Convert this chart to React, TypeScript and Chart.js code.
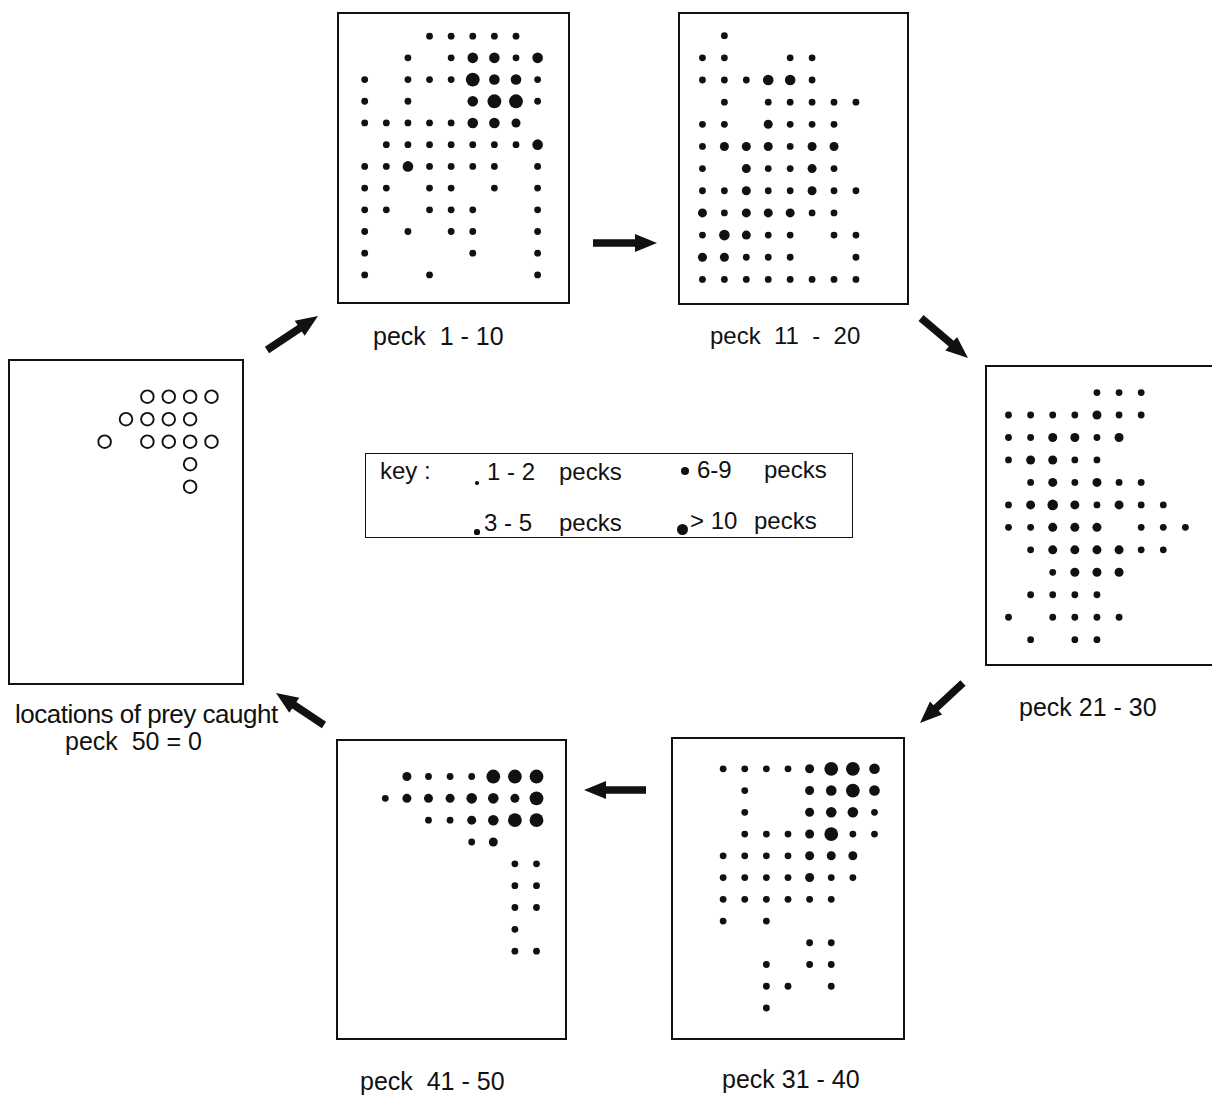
import React, { useEffect, useRef } from "react";
import { Chart, registerables } from "chart.js";

Chart.register(...registerables);

// Peck counts per grid cell, encoded as size class:
// 0 = none, 1 = 1-2 pecks, 2 = 3-5 pecks, 3 = 6-9 pecks, 4 = >10 pecks
const peck1to10 = [
  "000111110",
  "001013313",
  "101114331",
  "101003441",
  "111113320",
  "011111113",
  "113111101",
  "110110101",
  "110111001",
  "101011001",
  "100001001",
  "100100001",
];

const peck11to20 = [
  "01000000",
  "11001100",
  "11133100",
  "01011111",
  "11021110",
  "12221220",
  "10211210",
  "11211211",
  "21222110",
  "13211011",
  "22111001",
  "11111111",
];

const peck21to30 = [
  "000011100",
  "111121100",
  "112212000",
  "122110000",
  "012121100",
  "123212110",
  "112220111",
  "012222110",
  "001222000",
  "011110000",
  "101111000",
  "010110000",
];

const peck31to40 = [
  "11112443",
  "01002343",
  "01002331",
  "01112411",
  "11112220",
  "11112110",
  "11111100",
  "10100000",
  "00001100",
  "00101100",
  "00110100",
  "00100000",
];

const peck41to50 = [
  "02111444",
  "12223324",
  "00112344",
  "00001200",
  "00000011",
  "00000011",
  "00000011",
  "00000010",
  "00000011",
];

// locations of prey caught (1 = prey item)
const preyCaught = [
  "001111",
  "011110",
  "101111",
  "000010",
  "000010",
];

const radiusByLevel = [0, 3.4, 4.5, 5.3, 6.9];
const hollowRadius = 6.3;

type Geo = {
  left: number;
  top: number;
  right: number;
  bottom: number;
  x0: number;
  y0: number;
  dx: number;
  dy: number;
};

const panels: { key: string; rows: string[]; geo: Geo; hollow?: boolean }[] = [
  { key: "p1", rows: peck1to10, geo: { left: 337, top: 12, right: 570, bottom: 304, x0: 359, y0: 30, dx: 23, dy: 22.8 } },
  { key: "p2", rows: peck11to20, geo: { left: 678, top: 12, right: 909, bottom: 305, x0: 698, y0: 31, dx: 23, dy: 23 } },
  { key: "p3", rows: peck21to30, geo: { left: 985, top: 365, right: 1215, bottom: 666, x0: 1004, y0: 388, dx: 23.2, dy: 23.3 } },
  { key: "p4", rows: peck31to40, geo: { left: 671, top: 737, right: 905, bottom: 1040, x0: 719, y0: 763, dx: 23, dy: 22.8 } },
  { key: "p5", rows: peck41to50, geo: { left: 336, top: 739, right: 567, bottom: 1040, x0: 381, y0: 771, dx: 23, dy: 22.9 } },
  { key: "p6", rows: preyCaught, hollow: true, geo: { left: 8, top: 359, right: 244, bottom: 685, x0: 103, y0: 390, dx: 23, dy: 23.7 } },
];

const BORDER = 2;

function DotPanel({ rows, geo, hollow }: { rows: string[]; geo: Geo; hollow?: boolean }) {
  const ref = useRef<HTMLCanvasElement>(null);
  const w = geo.right - geo.left - BORDER * 2;
  const h = geo.bottom - geo.top - BORDER * 2;
  useEffect(() => {
    const iL = geo.left + BORDER;
    const iT = geo.top + BORDER;
    const iR = iL + w;
    const iB = iT + h;
    const points: { x: number; y: number; r: number }[] = [];
    rows.forEach((row, r) => {
      row.split("").forEach((ch, c) => {
        const lv = Number(ch);
        if (lv > 0) points.push({ x: c, y: r, r: hollow ? hollowRadius : radiusByLevel[lv] });
      });
    });
    const chart = new Chart(ref.current as HTMLCanvasElement, {
      type: "bubble",
      data: {
        datasets: [
          {
            data: points,
            backgroundColor: hollow ? "rgba(0,0,0,0)" : "#111",
            borderColor: "#111",
            borderWidth: hollow ? 1.9 : 0,
          },
        ],
      },
      options: {
        animation: false,
        responsive: false,
        events: [],
        layout: { padding: 0 },
        plugins: { legend: { display: false }, tooltip: { enabled: false } },
        scales: {
          x: { type: "linear", display: false, min: (iL - geo.x0) / geo.dx, max: (iR - geo.x0) / geo.dx },
          y: { type: "linear", display: false, reverse: true, min: (iT - geo.y0) / geo.dy, max: (iB - geo.y0) / geo.dy },
        },
      },
    } as any);
    return () => chart.destroy();
  }, []);
  return (
    <div
      style={{
        position: "absolute",
        left: geo.left,
        top: geo.top,
        width: geo.right - geo.left,
        height: geo.bottom - geo.top,
        border: `${BORDER}px solid #111`,
        boxSizing: "border-box",
      }}
    >
      <canvas ref={ref} width={w} height={h} style={{ display: "block", width: w, height: h }} />
    </div>
  );
}

const FONT = '"Liberation Sans", Arial, Helvetica, sans-serif';

const labels: { text: string; x: number; y: number; size: number; ls?: number }[] = [
  { text: "peck  1 - 10", x: 373, y: 345, size: 25 },
  { text: "peck  11  -  20", x: 710, y: 344, size: 24 },
  { text: "peck 21 - 30", x: 1019, y: 716, size: 25 },
  { text: "peck 31 - 40", x: 722, y: 1088, size: 25 },
  { text: "peck  41 - 50", x: 360, y: 1090, size: 25 },
  { text: "locations of prey caught", x: 15, y: 723, size: 26, ls: -0.5 },
  { text: "peck  50 = 0", x: 65, y: 750, size: 25 },
  { text: "key :", x: 380, y: 479, size: 24 },
  { text: "1 - 2", x: 487, y: 480, size: 24 },
  { text: "pecks", x: 559, y: 480, size: 24 },
  { text: "6-9", x: 697, y: 478, size: 24 },
  { text: "pecks", x: 764, y: 478, size: 24 },
  { text: "3 - 5", x: 484, y: 531, size: 24 },
  { text: "pecks", x: 559, y: 531, size: 24 },
  { text: "> 10", x: 690, y: 529, size: 24 },
  { text: "pecks", x: 754, y: 529, size: 24 },
];

const keyDots: { x: number; y: number; r: number }[] = [
  { x: 477, y: 483, r: 1.8 },
  { x: 685, y: 471, r: 4 },
  { x: 477, y: 532, r: 2.6 },
  { x: 682, y: 529, r: 5.5 },
];

const arrows: [number, number, number, number][] = [
  [267, 350, 318, 316],
  [593, 243, 657, 243],
  [921, 318, 968, 358],
  [963, 683, 920, 723],
  [646, 790, 584, 790],
  [324, 725, 276, 693],
];

function arrowPoints(x1: number, y1: number, x2: number, y2: number): string {
  const len = Math.hypot(x2 - x1, y2 - y1);
  const ux = (x2 - x1) / len;
  const uy = (y2 - y1) / len;
  const nx = -uy;
  const ny = ux;
  const sw = 3.8;
  const hw = 9;
  const hl = 22;
  const bx = x2 - ux * hl;
  const by = y2 - uy * hl;
  const pts = [
    [x1 + nx * sw, y1 + ny * sw],
    [bx + nx * sw, by + ny * sw],
    [bx + nx * hw, by + ny * hw],
    [x2, y2],
    [bx - nx * hw, by - ny * hw],
    [bx - nx * sw, by - ny * sw],
    [x1 - nx * sw, y1 - ny * sw],
  ];
  return pts.map((p) => `${p[0].toFixed(1)},${p[1].toFixed(1)}`).join(" ");
}

export default function App() {
  return (
    <div
      style={{
        position: "absolute",
        left: 0,
        top: 0,
        width: 1212,
        height: 1095,
        overflow: "hidden",
        background: "#fff",
        fontFamily: FONT,
        color: "#111",
      }}
    >
      {panels.map((p) => (
        <DotPanel key={p.key} rows={p.rows} geo={p.geo} hollow={p.hollow} />
      ))}
      <div
        style={{
          position: "absolute",
          left: 365,
          top: 453,
          width: 488,
          height: 85,
          border: "1.5px solid #111",
          boxSizing: "border-box",
        }}
      />
      {keyDots.map((d, i) => (
        <div
          key={"kd" + i}
          style={{
            position: "absolute",
            left: d.x - d.r,
            top: d.y - d.r,
            width: d.r * 2,
            height: d.r * 2,
            borderRadius: "50%",
            background: "#111",
          }}
        />
      ))}
      {labels.map((l, i) => (
        <div
          key={"lb" + i}
          style={{
            position: "absolute",
            left: l.x,
            top: l.y - l.size * 0.8305,
            fontSize: l.size,
            lineHeight: 1,
            whiteSpace: "pre",
            letterSpacing: l.ls ?? 0,
          }}
        >
          {l.text}
        </div>
      ))}
      <svg
        width={1212}
        height={1095}
        style={{ position: "absolute", left: 0, top: 0, pointerEvents: "none" }}
      >
        {arrows.map((a, i) => (
          <polygon key={"ar" + i} points={arrowPoints(a[0], a[1], a[2], a[3])} fill="#111" />
        ))}
      </svg>
    </div>
  );
}
